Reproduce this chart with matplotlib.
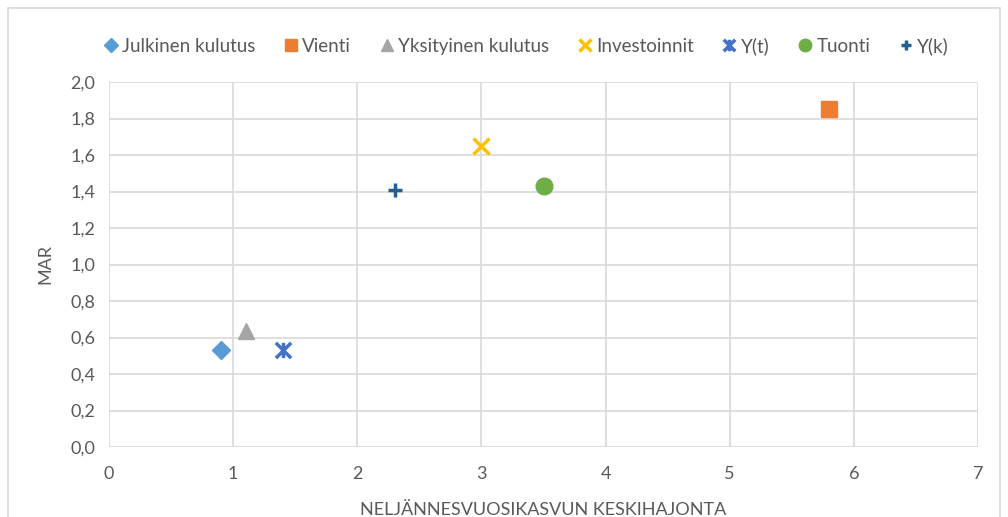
import matplotlib.pyplot as plt
from matplotlib.patches import Rectangle
from matplotlib.path import Path

# Data
series = ['Julkinen kulutus', 'Vienti', 'Yksityinen kulutus', 'Investoinnit',
          'Y(t)', 'Tuonti', 'Y(k)']
std_x = [0.9, 5.8, 1.1, 3.0, 1.4, 3.5, 2.3]
mar_y = [0.53, 1.85, 0.635, 1.65, 0.53, 1.43, 1.41]

colors = ['#5B9BD5', '#ED7D31', '#A5A5A5', '#FFC000', '#4472C4', '#70AD47', '#255E91']

# Excel-like "star" marker: an X with a vertical stroke through it
star = Path([(-1, -1), (1, 1), (-1, 1), (1, -1), (0, -1), (0, 1)],
            [Path.MOVETO, Path.LINETO, Path.MOVETO, Path.LINETO, Path.MOVETO, Path.LINETO])
markers = ['D', 's', '^', 'x', star, 'o', '+']
sizes = [9, 12, 11, 11, 11, 12, 10]

plt.rcParams['font.family'] = ['Lato', 'DejaVu Sans']
txt = '#595959'
grid = '#D9D9D9'

fig = plt.figure(figsize=(10.08, 5.17), dpi=100)
ax = fig.add_axes([109 / 1008, 1 - 447 / 517, (978 - 109) / 1008, (447 - 82) / 517])

for name, x, y, c, m, s in zip(series, std_x, mar_y, colors, markers, sizes):
    if m in ('x', '+') or m is star:
        ax.plot(x, y, marker=m, color=c, ms=s, mew=2.5, ls='none', label=name)
    else:
        ax.plot(x, y, marker=m, color=c, ms=s, mec=c, ls='none', label=name)

ax.set_xlim(0, 7)
ax.set_ylim(0, 2.0)
ax.set_xticks(range(0, 8))
ax.set_yticks([i / 10 for i in range(0, 21, 2)])
ax.set_yticklabels([f'{i / 10:.1f}'.replace('.', ',') for i in range(0, 21, 2)])
ax.grid(True, color=grid, lw=1.2)
ax.set_axisbelow(True)
for sp in ax.spines.values():
    sp.set_visible(False)
ax.tick_params(length=0, colors=txt, labelsize=13, pad=10)
ax.tick_params(axis='x', pad=14)

ax.set_ylabel('MAR', color=txt, fontsize=13, labelpad=12)
ax.set_xlabel('NELJÄNNESVUOSIKASVUN KESKIHAJONTA', color=txt, fontsize=13, labelpad=14)

leg = fig.legend(loc='center', bbox_to_anchor=(0.52, 1 - 46 / 517), ncol=7, frameon=False,
                 fontsize=13.5, handletextpad=0.0, columnspacing=1.3, markerscale=0.75,
                 handlelength=1.2)
for t in leg.get_texts():
    t.set_color(txt)

fig.patches.append(Rectangle((8 / 1008, -0.05), (1000 - 8) / 1008, 1.05 - 8 / 517,
                             transform=fig.transFigure, fill=False, ec=grid, lw=1.2))

fig.savefig('out.png', dpi=100)
